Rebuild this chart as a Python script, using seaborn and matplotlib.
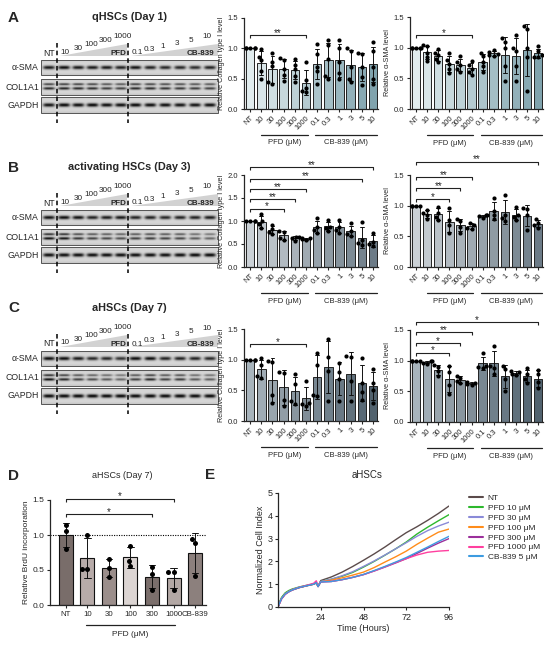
import warnings
warnings.filterwarnings("ignore")
import numpy as np
import pandas as pd
import matplotlib
matplotlib.use("Agg")
import matplotlib.pyplot as plt
import seaborn as sns
from matplotlib import transforms
from matplotlib.patches import Rectangle, Polygon
from matplotlib.colors import LinearSegmentedColormap, to_hex

# ---------------- data ----------------
conditions = ["NT", "PFD 10", "PFD 30", "PFD 100", "PFD 300", "PFD 1000",
              "CB 0.1", "CB 0.3", "CB 1", "CB 3", "CB 5", "CB 10"]
tick_labels = ["NT", "10", "30", "100", "300", "1000", "0.1", "0.3", "1", "3", "5", "10"]
pfd_lane_labels = ["10", "30", "100", "300", "1000"]
cb_lane_labels = ["0.1", "0.3", "1", "3", "5", "10"]

# Panel A (qHSCs, Day 1), n = 5
a_collagen = [[1.0, 1.0, 1.0, 1.0, 1.0], [0.99, 0.86, 0.80, 0.63, 0.50],
              [0.93, 0.78, 0.71, 0.44, 0.42], [0.84, 0.80, 0.66, 0.56, 0.46],
              [0.83, 0.73, 0.66, 0.55, 0.45], [0.77, 0.48, 0.35, 0.30, 0.28],
              [1.07, 0.90, 0.70, 0.62, 0.42], [1.13, 1.05, 0.82, 0.55, 0.50],
              [1.13, 1.00, 0.77, 0.60, 0.50], [1.00, 0.96, 0.70, 0.50, 0.44],
              [0.92, 0.90, 0.70, 0.52, 0.40], [1.10, 0.95, 0.70, 0.50, 0.42]]
a_sma = [[1.0, 1.0, 1.0, 1.0, 1.0], [1.04, 1.02, 0.92, 0.85, 0.78],
         [0.98, 0.92, 0.88, 0.82, 0.76], [0.91, 0.80, 0.74, 0.66, 0.58],
         [0.86, 0.76, 0.72, 0.65, 0.60], [0.78, 0.72, 0.66, 0.60, 0.55],
         [0.92, 0.86, 0.77, 0.70, 0.60], [0.97, 0.93, 0.90, 0.88, 0.87],
         [1.15, 1.10, 1.00, 0.70, 0.45], [1.20, 1.00, 0.95, 0.70, 0.45],
         [1.35, 1.30, 1.00, 0.85, 0.30], [1.02, 0.95, 0.88, 0.85, 0.85]]
# Panel B (activating HSCs, Day 3), n = 4
b_collagen = [[1.0, 1.0, 1.0, 1.0], [1.15, 1.00, 0.93, 0.85], [0.92, 0.82, 0.76, 0.72],
              [0.78, 0.76, 0.64, 0.58], [0.66, 0.65, 0.63, 0.56], [0.64, 0.62, 0.60, 0.58],
              [1.06, 0.87, 0.80, 0.74], [1.02, 0.88, 0.85, 0.78], [1.02, 0.88, 0.80, 0.74],
              [0.95, 0.78, 0.72, 0.68], [0.97, 0.58, 0.52, 0.48], [0.75, 0.55, 0.50, 0.45]]
b_sma = [[1.0, 1.0, 1.0, 1.0], [0.93, 0.88, 0.85, 0.78], [0.98, 0.88, 0.82, 0.76],
         [0.97, 0.76, 0.68, 0.55], [0.78, 0.75, 0.65, 0.56], [0.72, 0.68, 0.64, 0.62],
         [0.85, 0.84, 0.83, 0.80], [1.12, 0.92, 0.85, 0.78], [1.18, 0.85, 0.80, 0.75],
         [0.98, 0.85, 0.82, 0.76], [0.97, 0.94, 0.84, 0.60], [0.78, 0.72, 0.68, 0.64]]
# Panel C (aHSCs, Day 7), n = 4
c_collagen = [[1.0, 1.0, 1.0, 1.0], [1.03, 0.92, 0.73, 0.70], [0.98, 0.97, 0.43, 0.30],
              [0.80, 0.79, 0.35, 0.25], [0.76, 0.60, 0.32, 0.28], [0.65, 0.30, 0.27, 0.25],
              [1.11, 0.92, 0.43, 0.40], [1.33, 1.04, 0.82, 0.33], [0.95, 0.80, 0.68, 0.33],
              [1.06, 1.04, 0.65, 0.33], [1.02, 0.62, 0.47, 0.35], [0.85, 0.62, 0.50, 0.30]]
c_sma = [[1.0, 1.0, 1.0, 1.0], [1.00, 0.99, 0.97, 0.95], [0.93, 0.90, 0.83, 0.75],
         [0.92, 0.82, 0.60, 0.45], [0.75, 0.72, 0.67, 0.63], [0.65, 0.64, 0.62, 0.61],
         [1.12, 0.92, 0.90, 0.88], [1.24, 0.92, 0.88, 0.78], [0.92, 0.86, 0.70, 0.50],
         [0.83, 0.81, 0.79, 0.77], [0.88, 0.78, 0.70, 0.64], [0.85, 0.78, 0.65, 0.55]]

# significance brackets: (end category index, height, label), all start at NT
a_collagen_sig = [(5, 1.22, "**")]
a_sma_sig = [(5, 1.20, "*")]
b_collagen_sig = [(3, 1.27, "*"), (4, 1.47, "**"), (5, 1.69, "**"), (10, 1.92, "**"), (11, 2.17, "**")]
b_sma_sig = [(3, 1.11, "*"), (4, 1.28, "**"), (5, 1.46, "**"), (11, 1.72, "**")]
c_collagen_sig = [(5, 1.25, "*")]
c_sma_sig = [(3, 1.13, "*"), (4, 1.28, "*"), (5, 1.46, "**"), (11, 1.63, "*")]

# western blot band intensities (12 lanes)
blot_a = {"α-SMA": [0.75, 0.80, 0.75, 0.75, 0.75, 0.72, 0.78, 0.72, 0.70, 0.70, 0.68, 0.72],
          "COL1A1": [0.70, 0.72, 0.70, 0.68, 0.62, 0.60, 0.70, 0.68, 0.66, 0.64, 0.62, 0.60],
          "GAPDH": [0.78, 0.82, 0.80, 0.82, 0.80, 0.80, 0.82, 0.80, 0.80, 0.78, 0.78, 0.80]}
blot_b = {"α-SMA": [0.78, 0.80, 0.78, 0.72, 0.74, 0.76, 0.72, 0.72, 0.70, 0.72, 0.72, 0.74],
          "COL1A1": [0.80, 0.78, 0.65, 0.60, 0.58, 0.55, 0.60, 0.62, 0.60, 0.58, 0.50, 0.45],
          "GAPDH": [0.80, 0.80, 0.80, 0.80, 0.80, 0.80, 0.80, 0.80, 0.80, 0.80, 0.82, 0.82]}
blot_c = {"α-SMA": [0.80, 0.80, 0.75, 0.70, 0.70, 0.65, 0.80, 0.80, 0.72, 0.72, 0.72, 0.70],
          "COL1A1": [0.80, 0.70, 0.60, 0.55, 0.50, 0.45, 0.60, 0.70, 0.60, 0.62, 0.50, 0.48],
          "GAPDH": [0.82, 0.82, 0.82, 0.82, 0.82, 0.82, 0.82, 0.82, 0.82, 0.82, 0.82, 0.82]}

# Panel D BrdU
d_conditions = ["NT", "10", "30", "100", "300", "1000", "CB-839"]
d_values = [[1.14, 1.06, 0.80], [1.00, 0.51, 0.51], [0.66, 0.53, 0.40], [0.85, 0.63, 0.56],
            [0.55, 0.45, 0.22], [0.47, 0.47, 0.22], [0.94, 0.88, 0.42]]
d_sig = [(4, 1.30, "*"), (5, 1.52, "*")]
d_colors = ["#7b6b68", "#b9aaa7", "#9d8d89", "#ddd4d2", "#7d6d6a", "#b5a6a3", "#8f7e7a"]

# Panel E real-time cell index
e_time = [0, 1, 2, 4, 6, 8, 12, 16, 20, 21.5, 22.5, 24, 30, 36, 42, 48, 54, 60, 66, 72, 78, 84, 90, 96]
e_series = {
    "NT":          [0, 0.20, 0.38, 0.58, 0.68, 0.76, 0.86, 0.93, 1.00, 1.06, 0.90, 1.16, 1.32, 1.53, 1.78, 2.05, 2.33, 2.63, 2.95, 3.26, 3.52, 3.80, 4.10, 4.43],
    "PFD 10 μM":   [0, 0.24, 0.42, 0.62, 0.72, 0.79, 0.88, 0.95, 1.01, 1.05, 0.92, 1.12, 1.22, 1.35, 1.52, 1.75, 2.00, 2.27, 2.55, 2.85, 3.20, 3.50, 3.78, 4.05],
    "PFD 30 μM":   [0, 0.20, 0.38, 0.58, 0.68, 0.76, 0.86, 0.93, 1.00, 1.05, 0.91, 1.12, 1.22, 1.37, 1.55, 1.78, 2.02, 2.28, 2.55, 2.82, 3.10, 3.35, 3.55, 3.72],
    "PFD 100 μM":  [0, 0.19, 0.37, 0.57, 0.67, 0.75, 0.85, 0.93, 1.00, 1.07, 0.90, 1.10, 1.18, 1.28, 1.40, 1.53, 1.73, 1.97, 2.20, 2.45, 2.75, 3.02, 3.28, 3.42],
    "PFD 300 μM":  [0, 0.18, 0.35, 0.55, 0.66, 0.74, 0.85, 0.93, 1.01, 1.08, 0.89, 1.10, 1.12, 1.20, 1.30, 1.42, 1.58, 1.75, 1.93, 2.12, 2.35, 2.58, 2.80, 3.00],
    "PFD 1000 μM": [0, 0.18, 0.36, 0.56, 0.67, 0.76, 0.87, 0.95, 1.04, 1.15, 0.92, 1.11, 1.12, 1.20, 1.30, 1.42, 1.58, 1.76, 1.95, 2.12, 2.28, 2.40, 2.45, 2.48],
    "CB-839 5 μM": [0, 0.19, 0.37, 0.57, 0.67, 0.75, 0.86, 0.93, 1.00, 1.07, 0.90, 1.10, 1.12, 1.20, 1.30, 1.43, 1.60, 1.78, 1.97, 2.17, 2.40, 2.63, 2.87, 3.10],
}
e_colors = ["#5b4b4b", "#2db82d", "#8a8ad8", "#ff8c1a", "#9b2f9b", "#ff3f9f", "#3d9be0"]

# ---------------- style ----------------
sns.set_theme(style="ticks")
plt.rcParams["font.family"] = ["Liberation Sans", "DejaVu Sans"]
plt.rcParams["axes.linewidth"] = 0.9
plt.rcParams["xtick.major.width"] = 0.8
plt.rcParams["ytick.major.width"] = 0.8
plt.rcParams["xtick.major.size"] = 2.5
plt.rcParams["ytick.major.size"] = 2.5

W, H = 550, 645
fig = plt.figure(figsize=(W / 100, H / 100), dpi=100)

bg = fig.add_axes([0, 0, 1, 1])
bg.set_zorder(-5)


def px_axes(x0, y0, x1, y1):
    return fig.add_axes([x0 / W, 1 - y1 / H, (x1 - x0) / W, (y1 - y0) / H])


def gradient(c0, c1, n):
    cmap = LinearSegmentedColormap.from_list("g", [c0, c1])
    return [to_hex(cmap(i / (n - 1))) for i in range(n)]


pal_a = gradient("#dfedf0", "#78a7b5", 12)
pal_b = gradient("#c9d1d8", "#687c8b", 12)
pal_c = gradient("#a5b4bf", "#4c6373", 12)


def sig_bracket(ax, x0, x1, y, text, tick):
    ax.plot([x0, x0, x1, x1], [y - tick, y, y, y - tick], color="#222222", lw=0.8,
            clip_on=False, solid_capstyle="butt")
    ax.annotate(text, xy=((x0 + x1) / 2, y), xytext=(0, -0.6), textcoords="offset points",
                ha="center", va="baseline", fontsize=7, annotation_clip=False)


def bar_panel(ax, values, palette, ymax, yticks, ylabel, sigs):
    rows = [(c, v) for c, vals in zip(conditions, values) for v in vals]
    df = pd.DataFrame(rows, columns=["cond", "val"])
    sns.barplot(data=df, x="cond", y="val", hue="cond", order=conditions, hue_order=conditions,
                palette=palette, errorbar="sd", capsize=0.35, width=0.76,
                err_kws={"color": "#111111", "linewidth": 0.7},
                edgecolor="#222222", linewidth=0.7, legend=False, ax=ax)
    sns.swarmplot(data=df, x="cond", y="val", order=conditions, color="black", size=3.0, ax=ax)
    ax.set_xlim(-0.55, 11.45)
    ax.set_ylim(0, ymax)
    ax.set_yticks(yticks)
    ax.set_yticklabels([f"{t:.1f}" for t in yticks])
    ax.set_xticks(range(len(conditions)))
    ax.set_xticklabels(tick_labels, rotation=45, ha="right", rotation_mode="anchor")
    ax.tick_params(labelsize=5.5, pad=1.5)
    ax.set_xlabel("")
    ax.set_ylabel(ylabel, fontsize=5.2, labelpad=2)
    sns.despine(ax=ax)
    tr = transforms.blended_transform_factory(ax.transData, ax.transAxes)
    for (a, b, lab, cx) in [(0.95, 5.15, "PFD (μM)", 3.05), (5.85, 11.35, "CB-839 (μM)", 8.6)]:
        ax.plot([a, b], [-0.285, -0.285], transform=tr, color="#222222", lw=0.9, clip_on=False)
        ax.text(cx, -0.37, lab, transform=tr, ha="center", va="center", fontsize=5.5)
    tick = ymax * 3 / 92
    for end, y, lab in sigs:
        sig_bracket(ax, 0, end, y, lab, tick)


# ---------------- blots ----------------
lane_centers = [49] + [57 + 14.2 * (i + 0.5) for i in range(5)] + [128 + 14.9 * (i + 0.5) for i in range(6)]
pfd_label_x = [65, 78, 91.5, 106, 123]
cb_label_x = [137, 149, 163, 177, 191, 207]
strip_rows = [("α-SMA", 60, 75), ("COL1A1", 79, 95), ("GAPDH", 97, 113)]
SX0, SX1 = 41, 218


def strip_image(intens, double, y0, y1):
    s = 4
    w = int((SX1 - SX0) * s)
    h = int((y1 - y0) * s)
    xs = SX0 + (np.arange(w) + 0.5) / s
    ys = y0 + (np.arange(h) + 0.5) / s
    X, Y = np.meshgrid(xs, ys)
    img = np.full((h, w), 0.84)
    img -= 0.06 * np.exp(-((Y - y0) / 1.5) ** 2) + 0.06 * np.exp(-((Y - y1) / 1.5) ** 2)
    cy = (y0 + y1) / 2
    for cx, I in zip(lane_centers, intens):
        hx = np.exp(-((X - cx) / 5.8) ** 4)
        if double:
            vy = 0.85 * np.exp(-((Y - (cy - 2.8)) / 1.1) ** 2) + np.exp(-((Y - (cy + 1.4)) / 1.3) ** 2)
        else:
            vy = np.exp(-((Y - cy) / 1.8) ** 2)
        img -= I * hx * vy
    return np.clip(img, 0, 1)


def draw_blot(dy, letter, title, blot):
    bg.text(13.5, 17.5 + dy, letter, fontsize=11, fontweight="bold", ha="center", va="center")
    bg.text(129, 17 + dy, title, fontsize=7.8, fontweight="bold", ha="center", va="center")
    # wedges
    bg.add_patch(Polygon([(60, 56 + dy), (127, 56 + dy), (127, 44 + dy)], closed=True,
                         facecolor="#d2d2d2", edgecolor="none"))
    bg.add_patch(Polygon([(131, 56 + dy), (218, 56 + dy), (218, 44 + dy)], closed=True,
                         facecolor="#d2d2d2", edgecolor="none"))
    bg.text(126, 53.5 + dy, "PFD", fontsize=5.8, fontweight="bold", ha="right", va="center")
    bg.text(214, 53.5 + dy, "CB-839", fontsize=5.8, fontweight="bold", ha="right", va="center")
    bg.text(49, 53 + dy, "NT", fontsize=6.2, ha="center", va="center")
    for i, lab in enumerate(pfd_lane_labels):
        bg.text(pfd_label_x[i], 52 - i * 3.8 + dy, lab, fontsize=5.9, ha="center", va="center")
    for i, lab in enumerate(cb_lane_labels):
        bg.text(cb_label_x[i], 53 - i * 3.2 + dy, lab, fontsize=5.9, ha="center", va="center")
    for name, y0, y1 in strip_rows:
        img = strip_image(blot[name], name == "COL1A1", y0 + dy, y1 + dy)
        bg.imshow(img, cmap="gray", vmin=0, vmax=1, extent=(SX0, SX1, y1 + dy, y0 + dy),
                  aspect="auto", interpolation="bilinear")
        bg.add_patch(Rectangle((SX0, y0 + dy), SX1 - SX0, y1 - y0, fill=False,
                               edgecolor="#555555", lw=0.7))
        bg.text(39, (y0 + y1) / 2 + dy, name, fontsize=6.3, ha="right", va="center")
    for xl in (57, 128):
        bg.plot([xl, xl], [43 + dy, 123 + dy], color="black", lw=1.1, ls=(0, (3, 2)))


draw_blot(0, "A", "qHSCs (Day 1)", blot_a)
draw_blot(150, "B", "activating HSCs (Day 3)", blot_b)
draw_blot(291, "C", "aHSCs (Day 7)", blot_c)

# ---------------- bar charts A-C ----------------
t15 = [0.0, 0.5, 1.0, 1.5]
t20 = [0.0, 0.5, 1.0, 1.5, 2.0]
bar_panel(px_axes(244, 18, 378, 109), a_collagen, pal_a, 1.5, t15, "Relative Collagen type I level", a_collagen_sig)
bar_panel(px_axes(410, 17, 543, 109), a_sma, pal_a, 1.5, t15, "Relative α-SMA level", a_sma_sig)
bar_panel(px_axes(244, 175, 378, 267), b_collagen, pal_b, 2.0, t20, "Relative Collagen type I level", b_collagen_sig)
bar_panel(px_axes(410, 175, 543, 267), b_sma, pal_b, 1.5, t15, "Relative α-SMA level", b_sma_sig)
bar_panel(px_axes(244, 329, 378, 421), c_collagen, pal_c, 1.5, t15, "Relative Collagen type I level", c_collagen_sig)
bar_panel(px_axes(410, 330, 543, 422), c_sma, pal_c, 1.5, t15, "Relative α-SMA level", c_sma_sig)

# ---------------- panel D ----------------
bg.text(13.5, 476, "D", fontsize=11, fontweight="bold", ha="center", va="center")
bg.text(122, 476, "aHSCs (Day 7)", fontsize=6.5, ha="center", va="center")
axd = px_axes(50, 500, 206, 605)
rows = [(c, v) for c, vals in zip(d_conditions, d_values) for v in vals]
dfd = pd.DataFrame(rows, columns=["cond", "val"])
axd.axhline(1.0, color="black", lw=0.8, ls=(0, (1, 1.2)), zorder=0.5)
sns.barplot(data=dfd, x="cond", y="val", hue="cond", order=d_conditions, hue_order=d_conditions,
            palette=d_colors, errorbar="sd", capsize=0.3, width=0.65,
            err_kws={"color": "#111111", "linewidth": 0.7},
            edgecolor="#111111", linewidth=0.8, legend=False, ax=axd)
sns.swarmplot(data=dfd, x="cond", y="val", order=d_conditions, color="black", size=3.6, ax=axd)
axd.set_xlim(-0.73, 6.5)
axd.set_ylim(0, 1.5)
axd.set_yticks(t15)
axd.set_yticklabels([f"{t:.1f}" for t in t15])
axd.tick_params(axis="y", labelsize=6, pad=1.5)
axd.tick_params(axis="x", labelsize=5.7, pad=1.5)
axd.set_xlabel("")
axd.set_ylabel("Relative BrdU incorporation", fontsize=6, labelpad=2)
sns.despine(ax=axd)
trd = transforms.blended_transform_factory(axd.transData, axd.transAxes)
axd.plot([0.95, 5.05], [-0.19, -0.19], transform=trd, color="#222222", lw=0.9, clip_on=False)
axd.text(3.0, -0.28, "PFD (μM)", transform=trd, ha="center", va="center", fontsize=6)
for end, y, lab in d_sig:
    sig_bracket(axd, 0, end, y, lab, 1.5 * 3 / 105)

# ---------------- panel E ----------------
bg.text(210, 475, "E", fontsize=11, fontweight="bold", ha="center", va="center")
bg.text(367, 475, "aHSCs", fontsize=7, ha="center", va="center")
axe = px_axes(278, 493, 449, 607)
e_rows = [(name, t, v) for name, vals in e_series.items() for t, v in zip(e_time, vals)]
dfe = pd.DataFrame(e_rows, columns=["cond", "time", "value"])
names = list(e_series.keys())
sns.lineplot(data=dfe, x="time", y="value", hue="cond", hue_order=names, palette=e_colors,
             linewidth=1.0, ax=axe)
axe.set_xlim(0, 96)
axe.set_ylim(0, 5)
axe.set_xticks([24, 48, 72, 96])
axe.set_yticks([0, 1, 2, 3, 4, 5])
axe.tick_params(labelsize=6.5, pad=1.5)
axe.set_xlabel("Time (Hours)", fontsize=6.5, labelpad=2)
axe.set_ylabel("Normalized Cell Index", fontsize=6.5, labelpad=2)
sns.despine(ax=axe)
handles, labels = axe.get_legend_handles_labels()
for hnd in handles:
    hnd.set_linewidth(1.5)
axe.legend(handles, labels, loc="upper left", bbox_to_anchor=(1.1, 1.02), frameon=False,
           fontsize=6, handlelength=1.6, labelspacing=0.25, handletextpad=0.6, borderaxespad=0)

bg.set_xlim(0, W)
bg.set_ylim(H, 0)
bg.axis("off")

fig.savefig("out.png", dpi=100)
